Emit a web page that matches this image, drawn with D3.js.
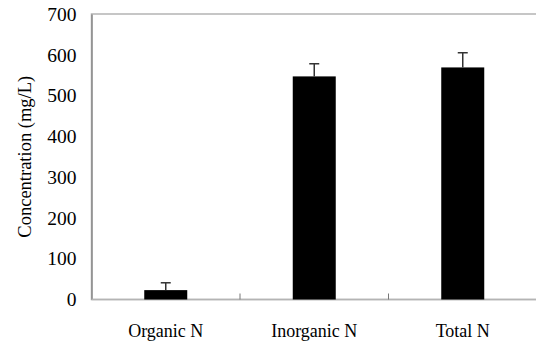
<!DOCTYPE html>
<html>
<head>
<meta charset="utf-8">
<script src="https://cdn.jsdelivr.net/npm/d3@7"></script>
<style>
  body { margin: 0; background: #fff; }
</style>
</head>
<body>
<div id="chart"></div>
<script>
// chart data
const categories = ["Organic N", "Inorganic N", "Total N"];
const means = [23, 547, 569];
const errors = [18, 31, 36];
const yTicks = [0, 100, 200, 300, 400, 500, 600, 700];

const FONT = "'Liberation Serif', 'Times New Roman', serif";

const width = 536, height = 341;
const margin = { top: 14, right: -1, bottom: 41.5, left: 91.5 };
const innerW = width - margin.left - margin.right;
const innerH = height - margin.top - margin.bottom;

const svg = d3.select("#chart").append("svg")
    .attr("width", width)
    .attr("height", height)
    .style("font-family", FONT);

const g = svg.append("g")
    .attr("transform", `translate(${margin.left},${margin.top})`);

const xScale = d3.scaleBand().domain(categories).range([0, innerW]);
const yScale = d3.scaleLinear().domain([0, 700]).range([innerH, 0]);

// plot frame
g.append("rect")
    .attr("x", 0).attr("y", 0)
    .attr("width", innerW).attr("height", innerH)
    .attr("fill", "none")
    .attr("stroke", "#b4b4b4")
    .attr("stroke-width", 1.5);

// y axis labels (no tick marks)
const yAxis = g.append("g")
    .call(d3.axisLeft(yScale).tickValues(yTicks).tickSize(0).tickPadding(15));
yAxis.attr("font-family", null).attr("font-size", null);
yAxis.select(".domain").attr("stroke", "#8a8a8a").attr("stroke-width", 1.5);
yAxis.selectAll("text")
    .style("font-family", FONT)
    .style("font-size", "19.5px")
    .attr("fill", "#000");

// x axis with inner ticks between categories
g.append("line")
    .attr("x1", 0).attr("x2", innerW)
    .attr("y1", innerH).attr("y2", innerH)
    .attr("stroke", "#b4b4b4").attr("stroke-width", 1.5);
g.selectAll(".xtick")
    .data(categories.slice(1))
    .enter().append("line")
    .attr("class", "xtick")
    .attr("x1", d => xScale(d)).attr("x2", d => xScale(d))
    .attr("y1", innerH).attr("y2", innerH - 6)
    .attr("stroke", "#777").attr("stroke-width", 1);
g.selectAll(".xlabel")
    .data(categories)
    .enter().append("text")
    .attr("class", "xlabel")
    .attr("x", d => xScale(d) + xScale.bandwidth() / 2)
    .attr("y", innerH + 37)
    .attr("text-anchor", "middle")
    .style("font-family", FONT)
    .style("font-size", "18px")
    .text(d => d);

// bars
const barW = 43;
g.selectAll(".bar")
    .data(categories)
    .enter().append("rect")
    .attr("class", "bar")
    .attr("x", d => xScale(d) + xScale.bandwidth() / 2 - barW / 2)
    .attr("y", (d, i) => yScale(means[i]))
    .attr("width", barW)
    .attr("height", (d, i) => innerH - yScale(means[i]))
    .attr("fill", "#000");

// error bars (upper only)
const capW = 10;
const eb = g.selectAll(".err")
    .data(categories)
    .enter().append("g")
    .attr("class", "err")
    .attr("stroke", "#333")
    .attr("stroke-width", 1.5);
eb.append("line")
    .attr("x1", d => xScale(d) + xScale.bandwidth() / 2)
    .attr("x2", d => xScale(d) + xScale.bandwidth() / 2)
    .attr("y1", (d, i) => yScale(means[i]))
    .attr("y2", (d, i) => yScale(means[i] + errors[i]));
eb.append("line")
    .attr("x1", d => xScale(d) + xScale.bandwidth() / 2 - capW / 2)
    .attr("x2", d => xScale(d) + xScale.bandwidth() / 2 + capW / 2)
    .attr("y1", (d, i) => yScale(means[i] + errors[i]))
    .attr("y2", (d, i) => yScale(means[i] + errors[i]));

// y axis title
svg.append("text")
    .attr("transform", `translate(25,${margin.top + innerH / 2}) rotate(-90)`)
    .attr("text-anchor", "middle")
    .attr("dy", "0.35em")
    .style("font-family", FONT)
    .style("font-size", "18.5px")
    .text("Concentration (mg/L)");
</script>
</body>
</html>
